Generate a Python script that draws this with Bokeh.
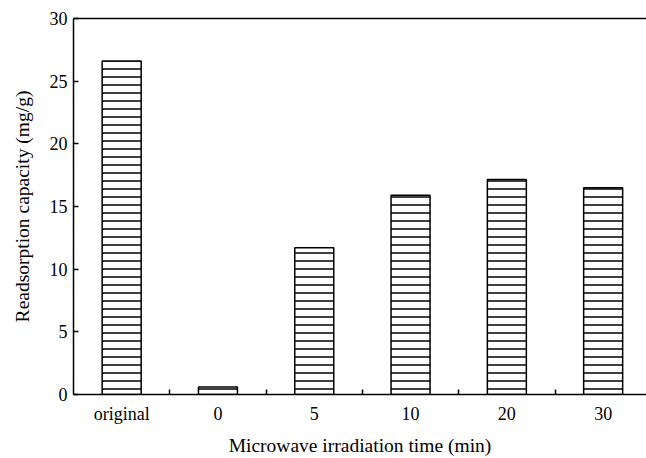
from bokeh.plotting import figure
from bokeh.models import ColumnDataSource, FixedTicker, LinearAxis, Range1d
from bokeh.embed import file_html
from bokeh.resources import INLINE

categories = ["original", "0", "5", "10", "20", "30"]
capacity = [26.6, 0.6, 11.7, 15.9, 17.15, 16.5]
y_ticks = [0, 5, 10, 15, 20, 25, 30]

xpos = list(range(len(categories)))
src = ColumnDataSource(dict(x=xpos, top=capacity))

FONT = "Liberation Serif"

p = figure(width=646, height=458, output_backend="svg", toolbar_location=None,
           x_range=Range1d(-0.5, 5.45), y_range=Range1d(0, 30),
           min_border_left=73, min_border_right=0, min_border_top=18, min_border_bottom=62)
p.outline_line_color = None
p.xgrid.visible = False
p.ygrid.visible = False
p.background_fill_color = "white"
p.border_fill_color = "white"

p.vbar(x="x", top="top", width=0.405, bottom=0, source=src,
       fill_color="white", line_color="black", line_width=1.5,
       hatch_pattern="horizontal_line", hatch_color="black",
       hatch_scale=8, hatch_weight=1.5)

xa = p.xaxis[0]
xa.ticker = FixedTicker(ticks=xpos, minor_ticks=[i + 0.5 for i in xpos[:-1]])
xa.major_label_overrides = {i: c for i, c in enumerate(categories)}
xa.major_tick_in = 0
xa.major_tick_out = 0
xa.minor_tick_in = 5
xa.minor_tick_out = 0
xa.minor_tick_line_color = "black"
xa.minor_tick_line_width = 1.5
xa.axis_line_color = "black"
xa.axis_line_width = 1.5
xa.major_label_text_font = FONT
xa.major_label_text_font_size = "18px"
xa.major_label_text_color = "black"
xa.major_label_standoff = 9
xa.axis_label = "Microwave irradiation time (min)"
xa.axis_label_text_font = FONT
xa.axis_label_text_font_size = "19.5px"
xa.axis_label_text_font_style = "normal"
xa.axis_label_text_color = "black"
xa.axis_label_standoff = 8

ya = p.yaxis[0]
ya.ticker = FixedTicker(ticks=y_ticks, minor_ticks=[])
ya.major_tick_in = 5
ya.major_tick_out = 0
ya.major_tick_line_color = "black"
ya.major_tick_line_width = 1.5
ya.minor_tick_line_color = None
ya.axis_line_color = "black"
ya.axis_line_width = 1.5
ya.major_label_text_font = FONT
ya.major_label_text_font_size = "18px"
ya.major_label_text_color = "black"
ya.major_label_standoff = 6
ya.axis_label = "Readsorption capacity (mg/g)"
ya.axis_label_text_font = FONT
ya.axis_label_text_font_size = "19.5px"
ya.axis_label_text_font_style = "normal"
ya.axis_label_text_color = "black"
ya.axis_label_standoff = 14

top_axis = LinearAxis(ticker=FixedTicker(ticks=[]), major_label_text_font_size="0px",
                      major_tick_line_color=None, minor_tick_line_color=None,
                      axis_line_color="black", axis_line_width=1.5)
p.add_layout(top_axis, "above")

open("out.html", "w").write(file_html(p, INLINE))
